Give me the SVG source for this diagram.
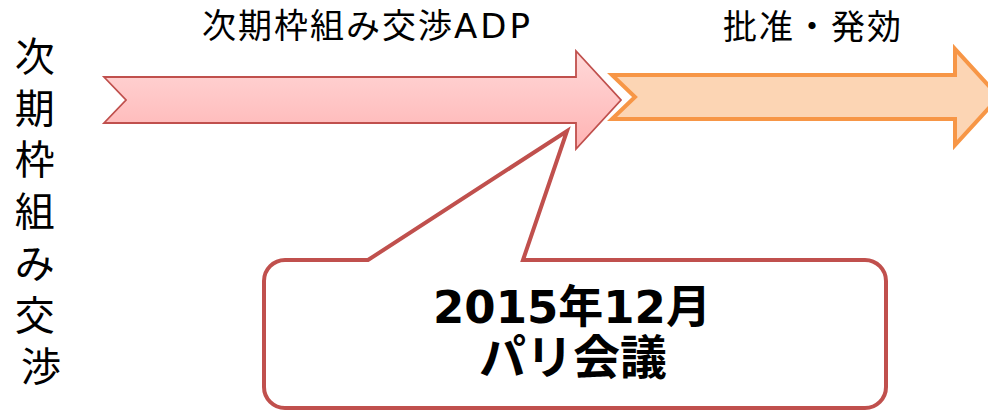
<svg xmlns="http://www.w3.org/2000/svg" width="988" height="411" viewBox="0 0 988 411">
<defs>
<style>
.lbl{font-family:"Noto Sans CJK JP","Noto Sans",sans-serif;fill:#000;}
.lat{font-family:"DejaVu Sans","Noto Sans CJK JP",sans-serif;}
.vert{font-family:"DejaVu Sans","Noto Sans CJK JP",sans-serif;fill:#000;}
.bold{font-family:"DejaVu Sans","Noto Sans CJK JP",sans-serif;font-weight:bold;fill:#000;}
</style>
<linearGradient id="pinkG" x1="0" y1="0" x2="0" y2="1">
<stop offset="0" stop-color="#FFD9D9"/>
<stop offset="1" stop-color="#FFB3B3"/>
</linearGradient>
</defs>
<rect width="988" height="411" fill="#fff"/>
<g id="label-vertical">
<text class="vert" font-size="40" text-anchor="middle">
<tspan x="41" y="71">次</tspan>
<tspan x="41" y="122.7">期</tspan>
<tspan x="41" y="174.4">枠</tspan>
<tspan x="41" y="226">組</tspan>
<tspan x="41" y="277.8">み</tspan>
<tspan x="41" y="329.5">交</tspan>
<tspan x="41" y="381">渉</tspan>
</text>
</g>
<g id="arrow-adp">
<polygon points="104,77 576,77 576,51 621,100 576,149 576,123 104,123 126,100" fill="url(#pinkG)" stroke="#C0504D" stroke-width="1.8" stroke-linejoin="miter"/>
<text class="lbl" x="202" y="38" font-size="34"><tspan letter-spacing="2">次期枠組み交渉</tspan><tspan class="lat" letter-spacing="3">ADP</tspan></text>
</g>
<g id="arrow-ratify">
<polygon points="612,75 955,75 955,49 999,97 955,145 955,119 612,119 635,97" fill="#FCD5B4" stroke="#F79646" stroke-width="4" stroke-linejoin="miter"/>
<text class="lbl" x="723" y="39" font-size="34" letter-spacing="2">批准・発効</text>
</g>
<g id="callout-paris">
<path d="M285,260 L368,260 L567,131 L523,260 L865,260 A21,21 0 0 1 886,281 L886,387 A21,21 0 0 1 865,408 L285,408 A21,21 0 0 1 264,387 L264,281 A21,21 0 0 1 285,260 Z" fill="#fff" stroke="#C0504D" stroke-width="4" stroke-linejoin="miter"/>
<text class="bold" x="572" y="323" font-size="45" text-anchor="middle">2015年12月</text>
<text class="bold" x="573" y="374" font-size="47" text-anchor="middle">パリ会議</text>
</g>
<g id="connectors"></g>
</svg>
